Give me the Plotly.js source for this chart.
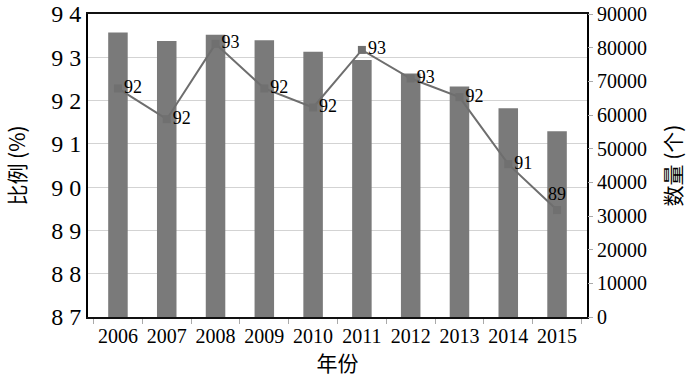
<!DOCTYPE html>
<html>
<head>
<meta charset="utf-8">
<script src="https://cdn.plot.ly/plotly-3.0.1.min.js"></script>
<style>html,body{margin:0;padding:0;background:#fff;}#chart{width:692px;height:384px;}</style>
</head>
<body>
<div id="chart"></div>
<script>
const years = ['2006','2007','2008','2009','2010','2011','2012','2013','2014','2015'];
const counts = [84500, 82000, 83800, 82200, 78800, 76300, 72300, 68500, 62000, 55200];
const ratios = [92.28, 91.57, 93.31, 92.28, 91.84, 93.17, 92.51, 92.08, 90.53, 89.47];
const ratioLabels = ['92','92','93','92','92','93','93','92','91','89'];
const leftTicks = [87, 88, 89, 90, 91, 92, 93, 94];
const leftTickText = ['8 7','8 8','8 9','9 0','9 1','9 2','9 3','9 4'];

const serif = "'Liberation Serif', 'Times New Roman', serif";
const cjk = "'Noto Sans CJK SC'";

const textPos = ratioLabels.map((_, i) => i === ratioLabels.length - 1 ? 'top center' : 'middle right');

const traces = [
  {
    type: 'scatter', mode: 'markers', x: years, y: ratios, xaxis: 'x', yaxis: 'y',
    marker: {opacity: 0, size: 1}, hoverinfo: 'skip'
  },
  {
    type: 'bar', x: years, y: counts, xaxis: 'x', yaxis: 'y2',
    marker: {color: '#7a7a7a'}, width: 0.4, hoverinfo: 'skip'
  },
  {
    type: 'scatter', mode: 'lines+markers+text', x: years, y: ratios, xaxis: 'x', yaxis: 'y3',
    line: {color: '#6e6e6e', width: 2},
    marker: {symbol: 'square', size: 8, color: '#707070'},
    text: ratioLabels, textposition: textPos,
    textfont: {family: serif, size: 18, color: '#000'},
    cliponaxis: false, hoverinfo: 'skip'
  }
];

const layout = {
  width: 692, height: 384,
  margin: {l: 88, r: 105, t: 14, b: 67},
  paper_bgcolor: '#fff', plot_bgcolor: '#fff',
  showlegend: false,
  font: {family: serif},
  xaxis: {
    type: 'category', categoryarray: years, tickangle: 0,
    ticks: 'outside', tickson: 'boundaries', ticklen: 5, tickcolor: '#aaa',
    showline: true, linecolor: '#111', linewidth: 2, mirror: true,
    tickfont: {family: serif, size: 20, color: '#000'},
    title: {text: '年份', font: {family: cjk, size: 21, color: '#000'}, standoff: 4},
    showgrid: false
  },
  yaxis: {
    range: [87, 94], tickvals: leftTicks, ticktext: leftTickText,
    showgrid: true, gridcolor: '#d3d3d3', gridwidth: 1,
    showline: true, linecolor: '#000', linewidth: 2, mirror: true,
    ticks: '', zeroline: false,
    tickfont: {family: serif, size: 24, color: '#000'},
    title: {text: '比例 (%)', font: {family: cjk, size: 21, color: '#000'}, standoff: 20}
  },
  yaxis2: {
    overlaying: 'y', side: 'right', range: [0, 90000], dtick: 10000, tickformat: 'd',
    showgrid: false, zeroline: false,
    ticks: 'outside', ticklen: 5, tickcolor: '#aaa',
    tickfont: {family: serif, size: 20, color: '#000'},
    title: {text: '数量 (个)', font: {family: cjk, size: 21, color: '#000'}, standoff: 20}
  },
  yaxis3: {
    overlaying: 'y', side: 'left', range: [87, 94], visible: false
  }
};

Plotly.newPlot('chart', traces, layout, {displayModeBar: false, staticPlot: true});
</script>
</body>
</html>
